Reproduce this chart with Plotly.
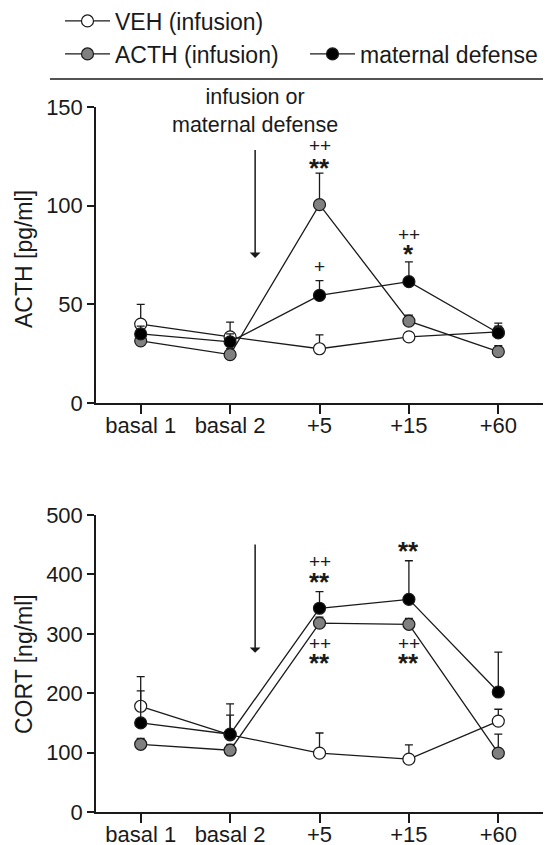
import plotly.graph_objects as go

categories = ["basal 1", "basal 2", "+5", "+15", "+60"]

# ACTH [pg/ml]
veh_acth = [40, 33.5, 27.5, 33.5, 36]
veh_acth_err = [10, 7.5, 7, 2, 3]
acth_acth = [31.5, 24.5, 100.5, 41.5, 26]
acth_acth_err = [3, 3, 16, 3, 3]
mat_acth = [35, 31, 54.5, 61.5, 35.5]
mat_acth_err = [4, 4, 7.5, 10, 5]

# CORT [ng/ml]
veh_cort = [178, 130, 99, 89, 153]
veh_cort_err = [50, 52, 34, 24, 20]
acth_cort = [114, 104, 318, 316, 99]
acth_cort_err = [10, 10, 10, 10, 32]
mat_cort = [150, 131, 343, 358, 202]
mat_cort_err = [54, 32, 28, 65, 67]

series_names = ["VEH (infusion)", "ACTH (infusion)", "maternal defense"]
series_fill = ["white", "#808080", "black"]
legend_ids = ["legend", "legend2", "legend3"]

FONT = "Liberation Sans, Arial, sans-serif"
INK = "#1a1a1a"

W, H = 543, 837  # page body has an 8px margin

fig = go.Figure()

top = [(veh_acth, veh_acth_err), (acth_acth, acth_acth_err), (mat_acth, mat_acth_err)]
bot = [(veh_cort, veh_cort_err), (acth_cort, acth_cort_err), (mat_cort, mat_cort_err)]

for i in range(3):
    for (vals, err), xa, ya, show in [(top[i], "x", "y", True), (bot[i], "x2", "y2", False)]:
        fig.add_trace(go.Scatter(
            x=categories, y=vals, xaxis=xa, yaxis=ya,
            mode="lines+markers", name=series_names[i],
            legendgroup=series_names[i], showlegend=show, legend=legend_ids[i],
            line=dict(color=INK, width=1.3),
            marker=dict(size=12, color=series_fill[i], line=dict(color=INK, width=1.2)),
            error_y=dict(type="data", array=err, arrayminus=[0] * len(err), symmetric=False,
                         color=INK, thickness=1.3, width=4),
            cliponaxis=False,
        ))

axis_common = dict(showline=True, linecolor=INK, linewidth=1.5, ticks="outside",
                   tickcolor=INK, tickwidth=1.5, showgrid=False, zeroline=False,
                   automargin=False,
                   tickfont=dict(family=FONT, size=22, color=INK))

xdom = [88 / W, 535 / W]
legend_common = dict(xref="container", yref="container", xanchor="left", yanchor="middle",
                     itemwidth=45,
                     font=dict(family=FONT, size=23, color=INK),
                     bgcolor="rgba(0,0,0,0)")

fig.update_layout(
    width=W, height=H,
    margin=dict(l=0, r=0, t=0, b=0, autoexpand=False),
    paper_bgcolor="white", plot_bgcolor="white",
    font=dict(family=FONT, color=INK),
    xaxis=dict(domain=xdom, anchor="y", type="category",
               categoryorder="array", categoryarray=categories,
               range=[-0.5, 4.5], ticklen=9, ticklabelstandoff=-7, **axis_common),
    yaxis=dict(domain=[1 - 395 / H, 1 - 99 / H], anchor="x", range=[0, 150],
               tickvals=[0, 50, 100, 150], ticklen=7, **axis_common),
    xaxis2=dict(domain=xdom, anchor="y2", type="category",
                categoryorder="array", categoryarray=categories,
                range=[-0.5, 4.5], ticklen=9, ticklabelstandoff=-7, **axis_common),
    yaxis2=dict(domain=[1 - 804 / H, 1 - 507 / H], anchor="x2", range=[0, 500],
                tickvals=[0, 100, 200, 300, 400, 500], ticklen=7, **axis_common),
    legend=dict(x=52 / W, y=1 - 13 / H, **legend_common),
    legend2=dict(x=52 / W, y=1 - 46 / H, **legend_common),
    legend3=dict(x=297 / W, y=1 - 46 / H, **legend_common),
    shapes=[dict(type="line", xref="paper", yref="paper", x0=42 / W, x1=1,
                 y0=1 - 71 / H, y1=1 - 71 / H, line=dict(color=INK, width=1.5))],
)

ann = []
# axis titles
for ttl, yc in [("ACTH [pg/ml]", 251), ("CORT [ng/ml]", 656)]:
    ann.append(dict(xref="paper", yref="paper", x=16 / W, y=1 - yc / H, text=ttl, textangle=-90,
                    showarrow=False, xanchor="center", yanchor="middle",
                    font=dict(family=FONT, size=23, color=INK)))
# event label and arrow
for xa, ya, ytxt, ytail, yhead in [("x", "y", 148, 129, 73.5), ("x2", "y2", 507, 453, 268)]:
    ann.append(dict(xref=xa, yref=ya, x=1.28, y=ytxt, text="infusion or<br>maternal defense",
                    showarrow=False, font=dict(family=FONT, size=21.5, color=INK), yanchor="middle"))
    ann.append(dict(xref=xa, yref=ya, x=1.28, y=yhead, ax=1.28, ay=ytail, axref=xa, ayref=ya,
                    text="", showarrow=True, arrowhead=1, arrowsize=1.2, arrowwidth=1.5, arrowcolor=INK))

sig = [
    ("x", "y", 2, 130.7, "++", False), ("x", "y", 2, 119, "**", True),
    ("x", "y", 2, 69.4, "+", False),
    ("x", "y", 3, 85.6, "++", False), ("x", "y", 3, 75.5, "*", True),
    ("x2", "y2", 2, 422.5, "++", False), ("x2", "y2", 2, 387, "**", True),
    ("x2", "y2", 2, 284.5, "++", False), ("x2", "y2", 2, 251, "**", True),
    ("x2", "y2", 3, 439, "**", True),
    ("x2", "y2", 3, 284.5, "++", False), ("x2", "y2", 3, 251, "**", True),
]
for xa, ya, xi, yv, txt, bold in sig:
    ann.append(dict(xref=xa, yref=ya, x=xi, y=yv, text=f"<b>{txt}</b>" if bold else txt,
                    showarrow=False, yanchor="middle",
                    font=dict(family=FONT, size=26 if bold else 19, color=INK)))

fig.update_layout(annotations=ann)
fig.write_html("out.html")
